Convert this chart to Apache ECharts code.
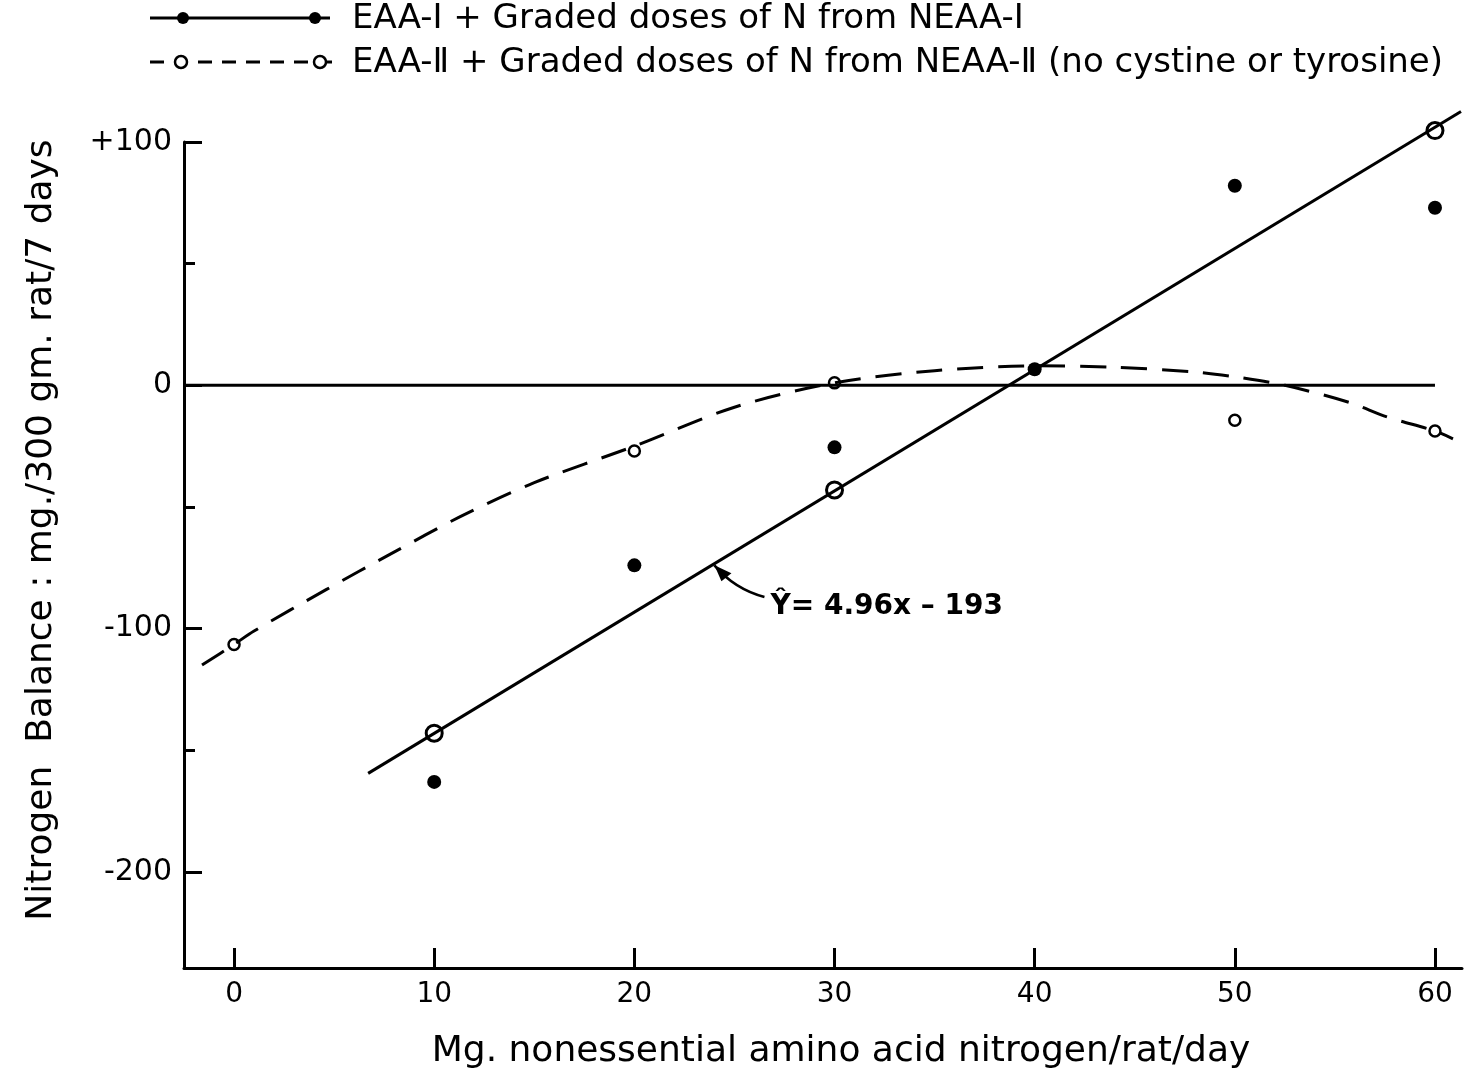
<!DOCTYPE html>
<html>
<head>
<meta charset="utf-8">
<script src="https://cdn.jsdelivr.net/npm/echarts@6/dist/echarts.min.js"></script>
<style>
    html, body { margin: 0; padding: 0; background: #fff; }
    #chart { width: 1469px; height: 1082px; }
</style>
</head>
<body>
<div id="chart"></div>
<script>
    // EAA-I + graded N from NEAA-I (filled dots)
    const doseI = [10, 20, 30, 40, 50, 60];
    const balanceI = [-163, -74, -25.5, 6.6, 82, 73];
    // EAA-II + graded N from NEAA-II (small open dots)
    const doseII = [0, 20, 30, 50, 60];
    const balanceII = [-106.5, -27, 1, -14.4, -18.8];
    // big open circles sitting on the fitted line
    const fitDose = [10, 30, 60];
    const fitBalance = [-143, -43, 104.7];
    // ends of the fitted line as drawn
    const fitLineX = [6.7, 61.3];
    const fitLineY = [-159.5, 112.5];
    // hand drawn dashed curve for EAA-II
    const curveX = [-1.6, 0, 1, 4.6, 7.9, 11.3, 15, 20, 25, 30, 35, 40, 44, 48, 50, 52.5, 55.7, 57.6, 60, 60.9];
    const curveY = [-115, -106.5, -101, -84, -69, -54, -40, -25, -9, 1, 6, 8, 7.4, 5.5, 3.5, 0, -7, -13, -18.8, -22];
    // zero balance line
    const zeroX = [-2.5, 60];
    // ticks
    const xTicks = [0, 10, 20, 30, 40, 50, 60];
    const yTicks = [-200, -100, 0, 100];
    const yMinorTicks = [-150, -50, 50];

    const ink = '#000';
    const font = 'DejaVu Sans';

    const zip = (xs, ys) => xs.map((x, i) => [x, ys[i]]);

    const chart = echarts.init(document.getElementById('chart'), null, {renderer: 'canvas'});

    chart.setOption({
        backgroundColor: '#fff',
        animation: false,
        grid: {left: 184, right: 7, top: 142, bottom: 114},
        xAxis: {
            type: 'value',
            min: -2.5,
            max: 61.35,
            splitLine: {show: false},
            axisLine: {onZero: false, lineStyle: {color: ink, width: 3}},
            axisTick: {
                inside: true,
                length: 20,
                customValues: xTicks,
                lineStyle: {color: ink, width: 3}
            },
            axisLabel: {
                customValues: xTicks,
                margin: 13,
                color: ink,
                fontFamily: font,
                fontSize: 28
            }
        },
        yAxis: [{
            type: 'value',
            min: -239.5,
            max: 100,
            splitLine: {show: false},
            axisLine: {onZero: false, lineStyle: {color: ink, width: 3}},
            axisTick: {
                inside: true,
                length: 18,
                customValues: yTicks,
                lineStyle: {color: ink, width: 3}
            },
            axisLabel: {
                customValues: yTicks,
                margin: 12,
                color: ink,
                fontFamily: font,
                fontSize: 30,
                formatter: v => v > 0 ? '+' + v : String(v)
            }
        }, {
            type: 'value',
            position: 'left',
            min: -239.5,
            max: 100,
            splitLine: {show: false},
            axisLine: {show: false, onZero: false},
            axisLabel: {show: false},
            axisTick: {
                inside: true,
                length: 11,
                customValues: yMinorTicks,
                lineStyle: {color: ink, width: 3}
            }
        }],
        series: [{
            name: 'zero',
            type: 'line',
            data: zeroX.map(x => [x, 0]),
            symbol: 'none',
            silent: true,
            lineStyle: {color: ink, width: 3}
        }, {
            name: 'fit',
            type: 'line',
            data: zip(fitLineX, fitLineY),
            symbol: 'none',
            clip: false,
            lineStyle: {color: ink, width: 3}
        }, {
            name: 'EAA-II curve',
            type: 'line',
            data: zip(curveX, curveY),
            smooth: 0.3,
            symbol: 'none',
            clip: false,
            lineStyle: {color: ink, width: 3, type: [26, 15]}
        }, {
            name: 'EAA-II',
            type: 'scatter',
            data: zip(doseII, balanceII),
            symbol: 'circle',
            symbolSize: 11,
            itemStyle: {color: '#fff', borderColor: ink, borderWidth: 2.5, opacity: 1}
        }, {
            name: 'fitted',
            type: 'scatter',
            data: zip(fitDose, fitBalance),
            symbol: 'circle',
            symbolSize: 16,
            clip: false,
            itemStyle: {color: '#fff', borderColor: ink, borderWidth: 3, opacity: 1}
        }, {
            name: 'EAA-I',
            type: 'scatter',
            data: zip(doseI, balanceI),
            symbol: 'circle',
            symbolSize: 14,
            itemStyle: {color: ink, opacity: 1}
        }]
    });

    // annotation: equation of the fitted line with a curved arrow
    const px = p => chart.convertToPixel({xAxisIndex: 0, yAxisIndex: 0}, p);
    const head = px([24, -74]);
    const tail = px([26.5, -87]);
    const ctrl = [tail[0] - 30, tail[1] - 8];
    const textPos = px([26.8, -91]);

    const legendText = {fontFamily: font, fontSize: 34, fill: ink};

    chart.setOption({
        graphic: [
            // legend row 1
            {type: 'line', shape: {x1: 150, y1: 18, x2: 330, y2: 18}, style: {stroke: ink, lineWidth: 3}},
            {type: 'circle', shape: {cx: 183, cy: 18, r: 6}, style: {fill: ink}},
            {type: 'circle', shape: {cx: 315, cy: 18, r: 6}, style: {fill: ink}},
            {type: 'text', x: 352, y: 19, style: Object.assign({text: 'EAA-I + Graded doses of N from NEAA-I', verticalAlign: 'middle'}, legendText)},
            // legend row 2
            {type: 'line', shape: {x1: 150, y1: 62, x2: 335, y2: 62}, style: {stroke: ink, lineWidth: 3, lineDash: [14, 10]}},
            {type: 'circle', shape: {cx: 181, cy: 62, r: 6}, style: {fill: '#fff', stroke: ink, lineWidth: 2.5}},
            {type: 'circle', shape: {cx: 320, cy: 62, r: 6}, style: {fill: '#fff', stroke: ink, lineWidth: 2.5}},
            {type: 'text', x: 352, y: 63, style: Object.assign({text: 'EAA-\u2161 + Graded doses of N from NEAA-\u2161 (no cystine or tyrosine)', verticalAlign: 'middle'}, legendText)},
            // axis titles
            {type: 'text', x: 841, y: 1052, style: {text: 'Mg. nonessential amino acid nitrogen/rat/day', align: 'center', verticalAlign: 'middle', fontFamily: font, fontSize: 36, fill: ink}},
            {type: 'text', x: 42, y: 530, rotation: Math.PI / 2, style: {text: 'Nitrogen  Balance : mg./300 gm. rat/7 days', align: 'center', verticalAlign: 'middle', fontFamily: font, fontSize: 36, fill: ink}},
            // equation and arrow
            {type: 'bezierCurve', shape: {x1: tail[0], y1: tail[1], cpx1: ctrl[0], cpy1: ctrl[1], x2: head[0], y2: head[1]}, style: {stroke: ink, lineWidth: 2.5, fill: null}},
            {type: 'polygon', shape: {points: [[head[0], head[1]], [head[0] + 17, head[1] + 8], [head[0] + 7, head[1] + 16]]}, style: {fill: ink}},
            {type: 'text', x: textPos[0], y: textPos[1], style: {text: '\u0176= 4.96x \u2013 193', verticalAlign: 'middle', fontFamily: font, fontWeight: 'bold', fontSize: 28, fill: ink}}
        ]
    });
</script>
</body>
</html>
